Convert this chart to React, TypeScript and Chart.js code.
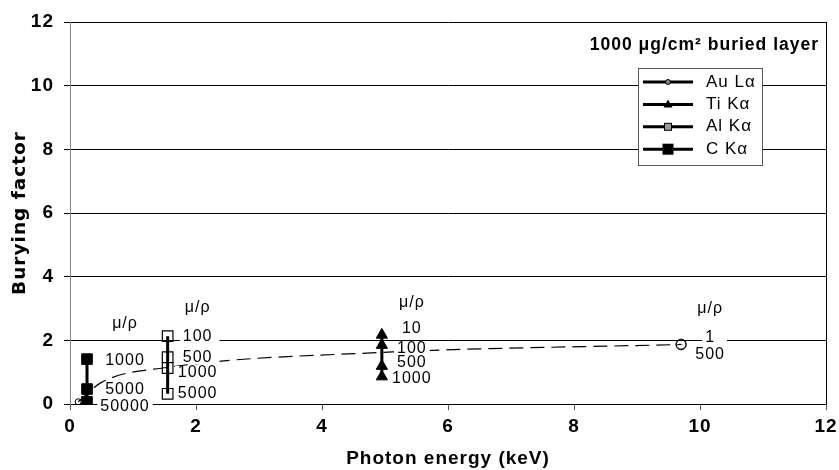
import React, { useEffect, useRef } from 'react';
import { Chart, registerables } from 'chart.js';

Chart.register(...registerables);

// ---------- data ----------
const xTickValues = [0, 2, 4, 6, 8, 10, 12];
const yTickValues = [0, 2, 4, 6, 8, 10, 12];

const seriesNames = ['Au Lα', 'Ti Kα', 'Al Kα', 'C Kα'];

const auEnergy = 9.7;
const auValues = [1.88, 1.86];
const auLabels = ['1', '500'];

const tiEnergy = 4.95;
const tiValues = [2.17, 1.85, 1.19, 0.86];
const tiLabels = ['10', '100', '500', '1000'];

const alEnergy = 1.55;
const alValues = [2.13, 1.47, 1.13, 0.32];
const alLabels = ['100', '500', '1000', '5000'];

const cEnergy = 0.27;
const cValues = [1.41, 0.47, 0.07];
const cLabels = ['1000', '5000', '50000'];

const trendEnergy = [0.13, 0.5, 1.55, 4.95, 9.7];
const trendValues = [0.07, 0.68, 1.15, 1.62, 1.87];

const groupHeader = 'μ/ρ';
const chartTitle = '1000 μg/cm² buried layer';
const xTitle = 'Photon energy (keV)';
const yTitle = 'Burying factor';

// ---------- styling (pixel offsets for annotations) ----------
const FONT = '"Liberation Sans", Arial, sans-serif';
const labelStyle = [
  { dx: 29, dys: [-7, 10], headerDy: -36, padR: 12 },
  { dx: 30, dys: [-6, 3, -4, 2], headerDy: -32, padR: 3 },
  { dx: 30, dys: [0, 0, 5, 0], headerDy: -29, padR: 7 },
  { dx: 38, dys: [1, 1, 5], headerDy: -36, padR: 3 },
];

const groups = [
  { energy: auEnergy, values: auValues, labels: auLabels },
  { energy: tiEnergy, values: tiValues, labels: tiLabels },
  { energy: alEnergy, values: alValues, labels: alLabels },
  { energy: cEnergy, values: cValues, labels: cLabels },
];

const spacingPlugin = {
  id: 'spacing',
  beforeDraw(chart: any) {
    (chart.ctx as any).letterSpacing = '1px';
  },
  afterDraw(chart: any) {
    (chart.ctx as any).letterSpacing = '0px';
  },
};

const annotationPlugin = {
  id: 'annotations',
  afterDatasetsDraw(chart: any) {
    const ctx = chart.ctx as CanvasRenderingContext2D;
    const xs = chart.scales.x;
    const ys = chart.scales.y;
    const area = chart.chartArea;
    ctx.save();
    (ctx as any).letterSpacing = '1px';
    ctx.textBaseline = 'middle';
    ctx.textAlign = 'center';
    groups.forEach((g, gi) => {
      const st = labelStyle[gi];
      const px = xs.getPixelForValue(g.energy);
      const cx = px + st.dx;
      ctx.font = `16px ${FONT}`;
      g.labels.forEach((lab, i) => {
        const py = ys.getPixelForValue(g.values[i]) + st.dys[i];
        const w = ctx.measureText(lab).width;
        ctx.fillStyle = '#fff';
        ctx.fillRect(cx - w / 2 - 3, py - 7, w + 3 + st.padR, 14);
        ctx.fillStyle = '#000';
        ctx.fillText(lab, cx, py);
      });
      const topPy = ys.getPixelForValue(Math.max(...g.values)) + st.headerDy;
      ctx.fillStyle = '#000';
      ctx.fillText(groupHeader, cx, topPy);
    });

    // chart title
    ctx.font = `bold 17.5px ${FONT}`;
    ctx.textAlign = 'right';
    ctx.fillStyle = '#000';
    ctx.fillText(chartTitle, area.right - 7, area.top + 23);

    // legend
    const lx = area.right - 188;
    const ly = area.top + 46;
    const lw = 124;
    const lh = 97;
    ctx.fillStyle = '#fff';
    ctx.fillRect(lx, ly, lw, lh);
    ctx.strokeStyle = '#555';
    ctx.lineWidth = 1;
    ctx.strokeRect(lx + 0.5, ly + 0.5, lw, lh);
    ctx.font = `17px ${FONT}`;
    ctx.textAlign = 'left';
    seriesNames.forEach((name, i) => {
      const y = ly + 14 + i * 22.4;
      ctx.strokeStyle = '#000';
      ctx.lineWidth = 3;
      ctx.beginPath();
      ctx.moveTo(lx + 5, y);
      ctx.lineTo(lx + 55, y);
      ctx.stroke();
      const mx = lx + 30;
      ctx.lineWidth = 1;
      if (i === 0) {
        ctx.fillStyle = '#888';
        ctx.beginPath();
        ctx.arc(mx, y, 2.5, 0, Math.PI * 2);
        ctx.fill();
        ctx.stroke();
      } else if (i === 1) {
        ctx.fillStyle = '#000';
        ctx.beginPath();
        ctx.moveTo(mx, y - 5);
        ctx.lineTo(mx + 4.5, y + 3);
        ctx.lineTo(mx - 4.5, y + 3);
        ctx.closePath();
        ctx.fill();
      } else if (i === 2) {
        ctx.fillStyle = '#999';
        ctx.fillRect(mx - 3.5, y - 3.5, 7, 7);
        ctx.strokeRect(mx - 3.5, y - 3.5, 7, 7);
      } else {
        ctx.fillStyle = '#000';
        ctx.fillRect(mx - 5.5, y - 5.5, 11, 11);
      }
      ctx.fillStyle = '#000';
      ctx.fillText(name, lx + 68, y);
    });

    // right border of plot area
    ctx.strokeStyle = '#000';
    ctx.lineWidth = 1;
    ctx.beginPath();
    ctx.moveTo(Math.round(area.right) + 0.5, area.top);
    ctx.lineTo(Math.round(area.right) + 0.5, area.bottom);
    ctx.stroke();
    ctx.restore();
  },
};

export default function App() {
  const ref = useRef<HTMLCanvasElement | null>(null);
  useEffect(() => {
    if (!ref.current) return;
    const pts = (e: number, vals: number[]) => vals.map((v) => ({ x: e, y: v }));
    const chart = new Chart(ref.current, {
      type: 'scatter',
      data: {
        datasets: [
          {
            label: seriesNames[0],
            data: pts(auEnergy, auValues),
            showLine: true,
            borderColor: '#000',
            borderWidth: 3,
            pointStyle: 'circle',
            pointRadius: 5,
            pointBackgroundColor: 'rgba(0,0,0,0)',
            pointBorderColor: '#000',
            pointBorderWidth: 1,
          },
          {
            label: seriesNames[1],
            data: pts(tiEnergy, tiValues),
            showLine: true,
            borderColor: '#000',
            borderWidth: 3,
            pointStyle: 'triangle',
            pointRadius: 6.5,
            pointBackgroundColor: '#000',
            pointBorderColor: '#000',
            pointBorderWidth: 1,
          },
          {
            label: seriesNames[2],
            data: pts(alEnergy, alValues),
            showLine: true,
            borderColor: '#000',
            borderWidth: 3,
            pointStyle: 'rect',
            pointRadius: 7.5,
            pointBackgroundColor: 'rgba(0,0,0,0)',
            pointBorderColor: '#000',
            pointBorderWidth: 1.2,
          },
          {
            label: seriesNames[3],
            data: pts(cEnergy, cValues),
            showLine: true,
            borderColor: '#000',
            borderWidth: 3,
            pointStyle: 'rect',
            pointRadius: 7.5,
            pointBackgroundColor: '#000',
            pointBorderColor: '#000',
            pointBorderWidth: 1,
          },
          {
            label: 'trend',
            data: trendEnergy.map((e, i) => ({ x: e, y: trendValues[i] })),
            showLine: true,
            borderColor: '#000',
            borderWidth: 1.2,
            borderDash: [14, 7],
            cubicInterpolationMode: 'monotone',
            pointStyle: 'circle',
            pointRadius: trendEnergy.map((_, i) => (i === 0 ? 3 : 0)),
            pointBackgroundColor: 'rgba(0,0,0,0)',
            pointBorderColor: '#000',
            pointBorderWidth: 1,
          },
        ] as any,
      },
      options: {
        animation: false,
        responsive: false,
        maintainAspectRatio: false,
        layout: { padding: { top: 22, right: 13, left: 0, bottom: 0 } },
        plugins: { legend: { display: false }, tooltip: { enabled: false } },
        scales: {
          x: {
            type: 'linear',
            min: 0,
            max: 12,
            afterBuildTicks: (s: any) => {
              s.ticks = xTickValues.map((v) => ({ value: v }));
            },
            ticks: {
              font: { family: FONT, weight: 'bold', size: 19 },
              color: '#000',
              padding: 5,
              maxRotation: 0,
            },
            grid: { drawOnChartArea: false, drawTicks: true, tickLength: 6, color: '#555' },
            border: { color: '#000', width: 1 },
            title: {
              display: true,
              text: xTitle,
              color: '#000',
              font: { family: FONT, weight: 'bold', size: 19 },
              padding: { top: 0, bottom: 0 },
            },
            afterFit: (s: any) => {
              s.height = 66;
              s.paddingLeft = 0;
              s.paddingRight = 0;
            },
          },
          y: {
            type: 'linear',
            min: 0,
            max: 12,
            afterBuildTicks: (s: any) => {
              s.ticks = yTickValues.map((v) => ({ value: v }));
            },
            ticks: {
              font: { family: FONT, weight: 'bold', size: 19 },
              color: '#000',
              padding: 10,
            },
            grid: { color: '#000', tickLength: 6, lineWidth: 1 },
            border: { color: '#888', width: 1 },
            title: {
              display: true,
              text: yTitle,
              color: '#000',
              font: { family: '"DejaVu Sans", sans-serif', weight: 'bold', size: 18.5 },
              padding: { top: 9, bottom: 0 },
            },
            afterFit: (s: any) => {
              s.width = 70;
              s.paddingTop = 0;
              s.paddingBottom = 0;
            },
          },
        },
      } as any,
      plugins: [spacingPlugin, annotationPlugin],
    });
    return () => chart.destroy();
  }, []);
  return (
    <div style={{ position: 'fixed', left: 0, top: 0, width: 839, height: 470, background: '#fff' }}>
      <canvas ref={ref} width={839} height={470} style={{ width: 839, height: 470, display: 'block' }} />
    </div>
  );
}
